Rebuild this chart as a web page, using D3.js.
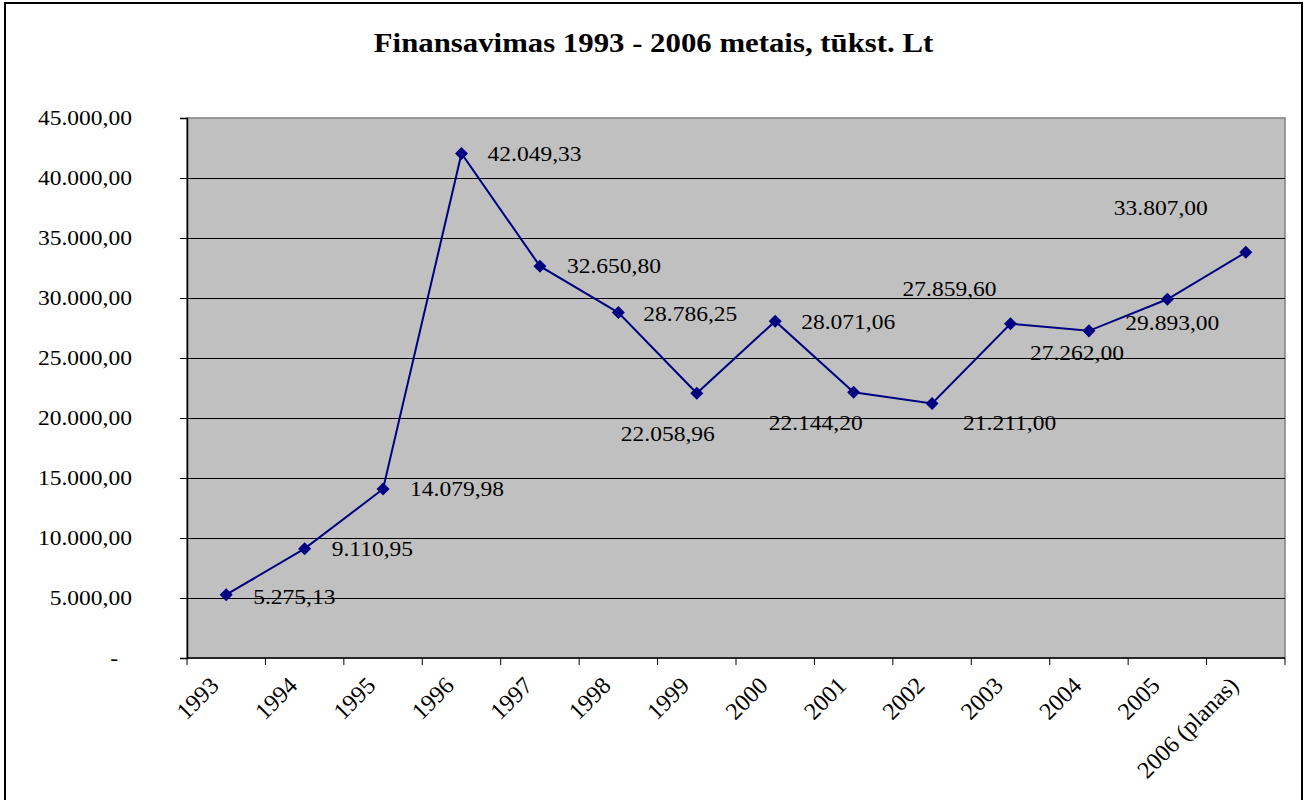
<!DOCTYPE html>
<html>
<head>
<meta charset="utf-8">
<script src="https://cdnjs.cloudflare.com/ajax/libs/d3/7.8.5/d3.min.js"></script>
<style>
  body { margin: 0; background: #fff; }
  text { font-family: "Liberation Serif", "Times New Roman", serif; fill: #000; }
</style>
</head>
<body>
<div id="chart"></div>
<script>
// data
const years = ["1993", "1994", "1995", "1996", "1997", "1998", "1999", "2000",
               "2001", "2002", "2003", "2004", "2005", "2006 (planas)"];
const values = [5275.13, 9110.95, 14079.98, 42049.33, 32650.80, 28786.25, 22058.96,
                28071.06, 22144.20, 21211.00, 27859.60, 27262.00, 29893.00, 33807.00];
const yTicks = [0, 5000, 10000, 15000, 20000, 25000, 30000, 35000, 40000, 45000];

// label offsets (left edge, middle) from each point, moved by hand like in the original
const labelOffsets = [[27, 2], [27, 0], [27, 0], [26, 1], [27, 0], [25, 1], [-76, 41],
                      [26, 1], [-85, 31], [31, 20], [-108, -35], [-59, 22], [-42, 24], [-132, -44]];

const W = 1307, H = 800;
const margin = {top: 118, right: 22, bottom: 142, left: 187};
const width = W - margin.left - margin.right;
const height = H - margin.top - margin.bottom;
const sx = 1.12; // original text looks stretched horizontally

const fmt = d3.formatLocale({decimal: ",", thousands: ".", grouping: [3], currency: ["", ""]}).format(",.2f");

const svg = d3.select("#chart").append("svg")
    .attr("width", W)
    .attr("height", H);

// outer chart border
svg.append("rect")
    .attr("x", 5).attr("y", 3)
    .attr("width", 1297).attr("height", 820)
    .attr("fill", "#fff")
    .attr("stroke", "#000")
    .attr("stroke-width", 2);

svg.append("text")
    .attr("transform", "translate(" + (W / 2) + ",52) scale(" + sx + ",1)")
    .attr("text-anchor", "middle")
    .style("font-size", "27.5px")
    .style("font-weight", "bold")
    .text("Finansavimas 1993 - 2006 metais, tūkst. Lt");

const g = svg.append("g")
    .attr("transform", "translate(" + margin.left + "," + margin.top + ")");

const x = d3.scaleBand().domain(years).range([0, width]);
const y = d3.scaleLinear().domain([0, 45000]).range([height, 0]);

// plot area
g.append("rect")
    .attr("width", width).attr("height", height)
    .attr("fill", "#c0c0c0")
    .attr("stroke", "#808080")
    .attr("stroke-width", 1.5);

// gridlines
g.selectAll(".grid")
    .data(yTicks.filter(d => d > 0 && d < 45000))
    .enter().append("line")
    .attr("class", "grid")
    .attr("x1", 0).attr("x2", width)
    .attr("y1", d => Math.round(y(d)) + 0.5)
    .attr("y2", d => Math.round(y(d)) + 0.5)
    .attr("stroke", "#000")
    .attr("stroke-width", 1);

// y axis
const yAxis = d3.axisLeft(y).tickValues(yTicks).tickSize(7).tickFormat("");
const yg = g.append("g").call(yAxis);
yg.select(".domain").attr("stroke", "#000").attr("stroke-width", 1.5);
yg.selectAll(".tick line").attr("stroke", "#000");

g.selectAll(".ylab")
    .data(yTicks)
    .enter().append("text")
    .attr("class", "ylab")
    .attr("transform", d => "translate(" + (d === 0 ? -69 : -55) + "," + (y(d) + 7) + ") scale(" + sx + ",1)")
    .attr("text-anchor", "end")
    .style("font-size", "21px")
    .text(d => d === 0 ? "-" : fmt(d));

// x axis, ticks between categories
const xg = g.append("g").attr("transform", "translate(0," + height + ")");
xg.append("line")
    .attr("x1", 0).attr("x2", width)
    .attr("stroke", "#000").attr("stroke-width", 1.5);
xg.selectAll(".xtick")
    .data(d3.range(years.length + 1))
    .enter().append("line")
    .attr("class", "xtick")
    .attr("x1", i => i * x.step()).attr("x2", i => i * x.step())
    .attr("y1", 0).attr("y2", 7)
    .attr("stroke", "#000");

xg.selectAll(".xlab")
    .data(years)
    .enter().append("text")
    .attr("class", "xlab")
    .attr("transform", d => "translate(" + (x(d) + x.bandwidth() / 2 - 6) + ",29) rotate(-45)")
    .attr("text-anchor", "end")
    .style("font-size", "24px")
    .text(d => d);

// series line
const cx = (d, i) => x(years[i]) + x.bandwidth() / 2;
const line = d3.line()
    .x((d, i) => cx(d, i))
    .y(d => y(d));

g.append("path")
    .datum(values)
    .attr("d", line)
    .attr("fill", "none")
    .attr("stroke", "#000080")
    .attr("stroke-width", 2);

g.selectAll(".marker")
    .data(values)
    .enter().append("path")
    .attr("class", "marker")
    .attr("d", d3.symbol().type(d3.symbolSquare).size(85))
    .attr("transform", (d, i) => "translate(" + cx(d, i) + "," + y(d) + ") rotate(45)")
    .attr("fill", "#000080");

g.selectAll(".vlab")
    .data(values)
    .enter().append("text")
    .attr("class", "vlab")
    .attr("transform", (d, i) => "translate(" + (cx(d, i) + labelOffsets[i][0]) + "," + (y(d) + labelOffsets[i][1] + 7) + ") scale(" + sx + ",1)")
    .style("font-size", "21px")
    .text(d => fmt(d));
</script>
</body>
</html>
